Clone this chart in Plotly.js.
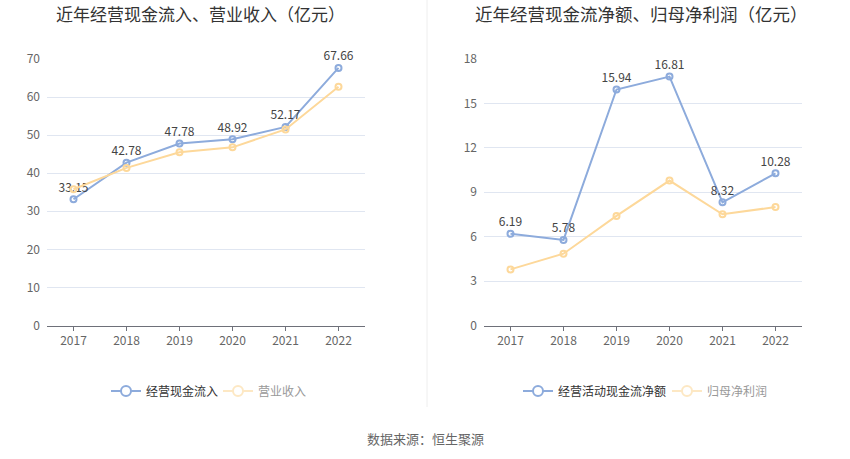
<!DOCTYPE html>
<html><head><meta charset="utf-8">
<script src="https://cdn.plot.ly/plotly-3.0.1.min.js"></script>
<style>html,body{margin:0;padding:0;background:#fff}#c{width:850px;height:459px}</style>
</head><body><div id="c"></div>
<script>
const years = ['2017','2018','2019','2020','2021','2022'];
const cashInflow = [33.15, 42.78, 47.78, 48.92, 52.17, 67.66];
const revenue = [35.8, 41.4, 45.5, 46.8, 51.5, 62.7];
const netCashFlow = [6.19, 5.78, 15.94, 16.81, 8.32, 10.28];
const netProfit = [3.79, 4.85, 7.4, 9.79, 7.51, 8.0];
const leftTitle = '近年经营现金流入、营业收入（亿元）';
const rightTitle = '近年经营现金流净额、归母净利润（亿元）';
const source = '数据来源：恒生聚源';

const BLUE = '#8dabdc', YELLOW = '#fdd89a', PALE = '#fde8c4';
const FONT = '"Microsoft YaHei","Noto Sans CJK SC","Noto Sans",sans-serif';

function tr(x, y, name, color, xa, ya, labels) {
  return {
    x: x, y: y, name: name, type: 'scatter', showlegend: false,
    mode: labels ? 'lines+markers+text' : 'lines+markers',
    text: labels ? y.map(v => v.toFixed(2)) : undefined,
    textposition: 'top center',
    textfont: {size: 12, color: '#444', family: FONT},
    line: {color: color, width: 2},
    marker: {symbol: 'circle-open', size: 6, color: color, line: {width: 2, color: color}},
    xaxis: xa, yaxis: ya, cliponaxis: false, hoverinfo: 'x+y'
  };
}
function leg(name, color, xa, ya, legend) {
  return {
    x: [null], y: [null], name: name, type: 'scatter', mode: 'lines+markers',
    line: {color: color, width: 2},
    marker: {symbol: 'circle', size: 10, color: '#fff', line: {width: 2, color: color}},
    xaxis: xa, yaxis: ya, legend: legend, showlegend: true, hoverinfo: 'skip'
  };
}

const data = [
  tr(years, cashInflow, '经营现金流入', BLUE, 'x', 'y', true),
  tr(years, revenue, '营业收入', YELLOW, 'x', 'y', false),
  tr(years, netCashFlow, '经营活动现金流净额', BLUE, 'x2', 'y2', true),
  tr(years, netProfit, '归母净利润', YELLOW, 'x2', 'y2', false),
  leg('经营现金流入', BLUE, 'x', 'y', 'legend'),
  leg('营业收入', PALE, 'x', 'y', 'legend2'),
  leg('经营活动现金流净额', BLUE, 'x2', 'y2', 'legend3'),
  leg('归母净利润', PALE, 'x2', 'y2', 'legend4')
];

const xbase = {
  type: 'category', range: [-0.5, 5.5], showgrid: false, zeroline: false,
  showline: true, linecolor: '#6e7079', linewidth: 1,
  ticks: 'outside', ticklen: 4, tickcolor: '#6e7079',
  tickfont: {size: 12, color: '#666', family: FONT}, fixedrange: true
};
const ybase = {
  showgrid: true, gridcolor: '#e0e6f1', zeroline: false, showline: false,
  ticks: '', tickfont: {size: 12, color: '#666', family: FONT}, ticklabelstandoff: 6, fixedrange: true
};
const yDom = [(459-325.5)/459, (459-59)/459];
const LY = (459-391)/459;
function legendAt(px, color) {
  return {orientation: 'h', x: px/850, xanchor: 'left', y: LY, yanchor: 'middle',
    font: {size: 12, color: color, family: FONT}, itemwidth: 30, bgcolor: 'rgba(0,0,0,0)'};
}

const layout = {
  width: 850, height: 459, margin: {l: 0, r: 0, t: 0, b: 0},
  paper_bgcolor: '#fff', plot_bgcolor: '#fff',
  font: {family: FONT},
  showlegend: true,
  xaxis: Object.assign({}, xbase, {domain: [47/850, 365/850], anchor: 'y'}),
  yaxis: Object.assign({}, ybase, {domain: yDom, range: [0, 70], dtick: 10, anchor: 'x'}),
  xaxis2: Object.assign({}, xbase, {domain: [484/850, 802/850], anchor: 'y2'}),
  yaxis2: Object.assign({}, ybase, {domain: yDom, range: [0, 18], dtick: 3, anchor: 'x2'}),
  legend: legendAt(106, '#333'),
  legend2: legendAt(218, '#999'),
  legend3: legendAt(518, '#333'),
  legend4: legendAt(667, '#999'),
  annotations: [
    {text: leftTitle, xref: 'paper', yref: 'paper', x: 200/850, y: (459-14)/459, xanchor: 'center', yanchor: 'middle',
     showarrow: false, font: {size: 17, color: '#333', family: FONT}},
    {text: rightTitle, xref: 'paper', yref: 'paper', x: 641/850, y: (459-14)/459, xanchor: 'center', yanchor: 'middle',
     showarrow: false, font: {size: 17.5, color: '#333', family: FONT}},
    {text: source, xref: 'paper', yref: 'paper', x: 425/850, y: (459-438)/459, xanchor: 'center', yanchor: 'middle',
     showarrow: false, font: {size: 13, color: '#666', family: FONT}}
  ],
  shapes: [
    {type: 'line', xref: 'paper', yref: 'paper', x0: 427/850, x1: 427/850, y0: (459-407)/459, y1: 1,
     line: {color: '#eeeeee', width: 1}}
  ]
};

Plotly.newPlot('c', data, layout, {displayModeBar: false, staticPlot: true});
</script>
</body></html>
